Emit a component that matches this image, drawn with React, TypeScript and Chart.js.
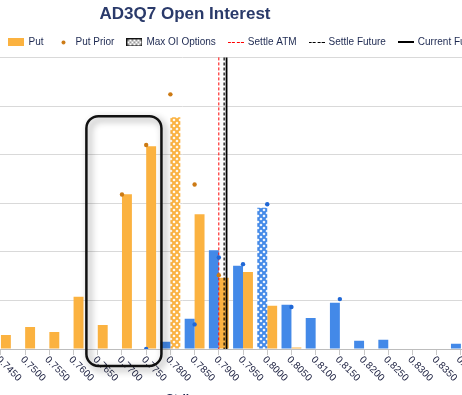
import React, { useEffect, useRef } from 'react';
import { Chart, registerables } from 'chart.js';

Chart.register(...registerables);

// ---------- data ----------
const STRIKES = [
  '0.7250', '0.7300', '0.7350', '0.7400', '0.7450', '0.7500', '0.7550', '0.7600',
  '0.7650', '0.7700', '0.7750', '0.7800', '0.7850', '0.7900', '0.7950', '0.8000',
  '0.8050', '0.8100', '0.8150', '0.8200', '0.8250', '0.8300', '0.8350', '0.8400',
];
const CALL = [
  null, null, null, null, 0, 0, 0, 0,
  0, 0, 0, 151, 624, 2034, 1712, 2904,
  911, 637, 952, 171, 192, 0, 0, 110,
];
const CALL_PRIOR = [
  null, null, null, null, null, null, null, null,
  null, null, 0, null, 506, 1884, 1746, 2979,
  863, null, 1027, null, null, null, null, null,
];
const PUT = [
  null, null, null, null, 288, 452, 349, 1075,
  495, 3185, 4170, 4767, 2774, 1466, 1582, 890,
  30, 0, 0, 0, 0, 0, 0, 0,
];
const PUT_PRIOR = [
  null, null, null, null, null, null, null, null,
  null, 3180, 4198, 5240, 3384, 1520, null, null,
  null, null, null, null, null, null, null, null,
];
const SETTLE_ATM = 0.79;
const SETTLE_FUTURE = 0.7911;
const CURRENT_FUTURE = 0.7916;
const Y_MAX = 6000;
const Y_STEP = 1000;
const LEGEND_LABELS = ['Call', 'Call Prior', 'Put', 'Put Prior', 'Max OI Options', 'Settle ATM', 'Settle Future', 'Current Future'];
const TITLE = 'AD3Q7 Open Interest';
const X_TITLE = 'Strike';
// highlighted strikes (rounded box)
const HIGHLIGHT_FROM = '0.7650';
const HIGHLIGHT_TO = '0.7750';
const HIGHLIGHT_TOP = 4790;

// ---------- styles ----------
const FONT = '"Liberation Sans", Arial, sans-serif';
const CALL_COLOR = '#4389E8';
const PUT_COLOR = '#FBB240';
const CALL_PRIOR_COLOR = '#1F67D6';
const PUT_PRIOR_COLOR = '#CC7A14';
const TEXT_COLOR = '#1d2951';
const VLINES = [
  { value: SETTLE_ATM, color: '#ff0000', dash: [3, 2], width: 1 },
  { value: SETTLE_FUTURE, color: '#000000', dash: [3, 2], width: 1.2 },
  { value: CURRENT_FUTURE, color: '#000000', dash: [] as number[], width: 1.8 },
];

function argmax(a: (number | null)[]) {
  let bi = -1, bv = -Infinity;
  a.forEach((v, i) => { if (v != null && v > bv) { bv = v; bi = i; } });
  return bi;
}

function hatch(color: string) {
  const c = document.createElement('canvas');
  c.width = 6; c.height = 6;
  const g = c.getContext('2d')!;
  g.fillStyle = '#fff';
  g.fillRect(0, 0, 6, 6);
  g.strokeStyle = color;
  g.lineWidth = 2;
  g.beginPath();
  g.moveTo(-1, -1); g.lineTo(7, 7);
  g.moveTo(7, -1); g.lineTo(-1, 7);
  g.stroke();
  return g.createPattern(c, 'repeat')!;
}

function icon(draw: (g: CanvasRenderingContext2D) => void, w: number, h: number) {
  const c = document.createElement('canvas');
  c.width = w; c.height = h;
  draw(c.getContext('2d')!);
  return c;
}

function dashIcon(color: string, solid: boolean) {
  return icon((g) => {
    g.fillStyle = color;
    if (solid) g.fillRect(0, 0, 16, 2);
    else for (let x = 0; x < 16; x += 4.3) g.fillRect(Math.round(x), 0, 3, 1);
  }, 16, solid ? 2 : 1);
}

export default function App() {
  const ref = useRef<HTMLCanvasElement>(null);

  useEffect(() => {
    const maxCall = argmax(CALL);
    const maxPut = argmax(PUT);
    const callPat = hatch(CALL_COLOR);
    const putPat = hatch(PUT_COLOR);
    const nums = STRIKES.map(Number);
    const step = nums[1] - nums[0];

    const icons = [
      icon((g) => { g.fillStyle = CALL_COLOR; g.fillRect(0, 0, 16, 8); }, 16, 8),
      icon((g) => { g.fillStyle = CALL_PRIOR_COLOR; g.beginPath(); g.arc(2.5, 2.5, 2, 0, Math.PI * 2); g.fill(); }, 5, 5),
      icon((g) => { g.fillStyle = PUT_COLOR; g.fillRect(0, 0, 16, 8); }, 16, 8),
      icon((g) => { g.fillStyle = PUT_PRIOR_COLOR; g.beginPath(); g.arc(2.5, 2.5, 2, 0, Math.PI * 2); g.fill(); }, 5, 5),
      icon((g) => {
        g.fillStyle = '#fff'; g.fillRect(0, 0, 16, 8);
        g.strokeStyle = '#9a9a9a'; g.lineWidth = 1;
        g.beginPath();
        for (let x = -8; x < 16; x += 4) { g.moveTo(x, 0); g.lineTo(x + 8, 8); g.moveTo(x + 8, 0); g.lineTo(x, 8); }
        g.stroke();
        g.strokeStyle = '#111'; g.strokeRect(0.5, 0.5, 15, 7);
      }, 16, 8),
      dashIcon('#ff0000', false),
      dashIcon('#000000', false),
      dashIcon('#000000', true),
    ];

    let linesDrawn = false;
    const refLines = {
      id: 'refLines',
      beforeDraw() { linesDrawn = false; },
      beforeDatasetDraw(chart: any, args: any) {
        if (linesDrawn || chart.getDatasetMeta(args.index).type !== 'line') return;
        linesDrawn = true;
        const xs = chart.scales.x;
        const ys = chart.scales.y;
        const ctx = chart.ctx;
        ctx.save();
        VLINES.forEach((l) => {
          const px = xs.getPixelForValue((l.value - nums[0]) / step);
          ctx.strokeStyle = l.color;
          ctx.lineWidth = l.width;
          ctx.setLineDash(l.dash);
          ctx.beginPath();
          ctx.moveTo(px, ys.getPixelForValue(Y_MAX));
          ctx.lineTo(px, ys.getPixelForValue(0));
          ctx.stroke();
        });
        ctx.restore();
      },
    };

    const tickLabels = {
      id: 'tickLabels',
      afterDraw(chart: any) {
        const xs = chart.scales.x;
        const ctx = chart.ctx;
        ctx.save();
        ctx.font = `10px ${FONT}`;
        ctx.fillStyle = '#1c2040';
        ctx.textAlign = 'left';
        ctx.textBaseline = 'middle';
        STRIKES.forEach((s, i) => {
          const px = xs.getPixelForTick(i);
          ctx.save();
          ctx.translate(px - 3, xs.top + 9);
          ctx.rotate(Math.PI / 4);
          ctx.fillText(s, 0, 0);
          ctx.restore();
        });
        // highlight box
        const ys = chart.scales.y;
        const i0 = STRIKES.indexOf(HIGHLIGHT_FROM);
        const i1 = STRIKES.indexOf(HIGHLIGHT_TO);
        const l = xs.getPixelForValue(i0 - 0.47);
        const r = xs.getPixelForValue(i1 + 0.63);
        const t = ys.getPixelForValue(HIGHLIGHT_TOP);
        const b = ys.bottom + 17;
        ctx.shadowColor = 'rgba(0,0,0,0.45)';
        ctx.shadowBlur = 7;
        ctx.shadowOffsetX = 3;
        ctx.shadowOffsetY = 3;
        ctx.strokeStyle = '#111';
        ctx.lineWidth = 2.5;
        ctx.beginPath();
        ctx.roundRect(l, t, r - l, b - t, 12);
        ctx.stroke();
        ctx.restore();
      },
    };

    const chart = new Chart(ref.current!, {
      data: {
        labels: STRIKES,
        datasets: [
          {
            type: 'bar', label: 'Call', data: CALL as any, order: 2,
            backgroundColor: (c: any) => (c.dataIndex === maxCall ? callPat : CALL_COLOR),
            categoryPercentage: 0.82, barPercentage: 1,
          },
          {
            type: 'bar', label: 'Put', data: PUT as any, order: 2,
            backgroundColor: (c: any) => (c.dataIndex === maxPut ? putPat : PUT_COLOR),
            categoryPercentage: 0.82, barPercentage: 1,
          },
          {
            type: 'line', label: 'Call Prior', data: CALL_PRIOR as any, showLine: false, order: 0,
            pointRadius: 2.2, pointBorderWidth: 0, pointBackgroundColor: CALL_PRIOR_COLOR,
          },
          {
            type: 'line', label: 'Put Prior', data: PUT_PRIOR as any, showLine: false, order: 0,
            pointRadius: 2.2, pointBorderWidth: 0, pointBackgroundColor: PUT_PRIOR_COLOR,
          },
        ] as any,
      },
      options: {
        responsive: false,
        animation: false,
        devicePixelRatio: 1,
        layout: { padding: 0 },
        font: { family: FONT },
        plugins: {
          tooltip: { enabled: false },
          title: {
            display: true, text: TITLE, color: '#2a3a6a',
            font: { family: FONT, size: 17, weight: 'bold' },
            padding: { top: 4, bottom: 0 },
          },
          legend: {
            position: 'top',
            labels: {
              usePointStyle: true, pointStyleWidth: 14, boxHeight: 8, padding: 13,
              color: TEXT_COLOR, font: { family: FONT, size: 10 },
              generateLabels: () => LEGEND_LABELS.map((text, i) => ({
                text, pointStyle: icons[i], fillStyle: 'transparent', strokeStyle: 'transparent',
                lineWidth: 0, hidden: false, datasetIndex: i, fontColor: TEXT_COLOR,
              })) as any,
            },
          },
        },
        scales: {
          x: {
            type: 'category',
            offset: true,
            grid: { offset: false, drawOnChartArea: false, drawTicks: true, tickLength: 6, color: '#c8c8c8' },
            border: { color: '#bdbdbd' },
            ticks: { display: false },
            title: { display: true, text: X_TITLE, color: TEXT_COLOR, font: { family: FONT, size: 12, weight: 'bold' }, padding: { top: 4, bottom: 4 } },
            afterFit: (s: any) => { s.height = 62; },
          },
          y: {
            min: 0, max: Y_MAX,
            ticks: { stepSize: Y_STEP, color: TEXT_COLOR, font: { family: FONT, size: 10 } },
            grid: { color: '#d9d9d9' },
            border: { display: false },
            afterFit: (s: any) => { s.width = 45; },
          },
          y2: {
            position: 'right', min: 0, max: Y_MAX,
            ticks: { display: false },
            grid: { drawOnChartArea: false, drawTicks: false },
            border: { display: false },
            afterFit: (s: any) => { s.width = 50; },
          },
        },
      } as any,
      plugins: [refLines, tickLabels],
    });
    return () => chart.destroy();
  }, []);

  return (
    <div style={{ position: 'fixed', left: 0, top: 0, width: 462, height: 395, overflow: 'hidden', background: '#fff' }}>
      <canvas ref={ref} width={676} height={411} style={{ position: 'absolute', left: -153, top: 0 }} />
    </div>
  );
}
